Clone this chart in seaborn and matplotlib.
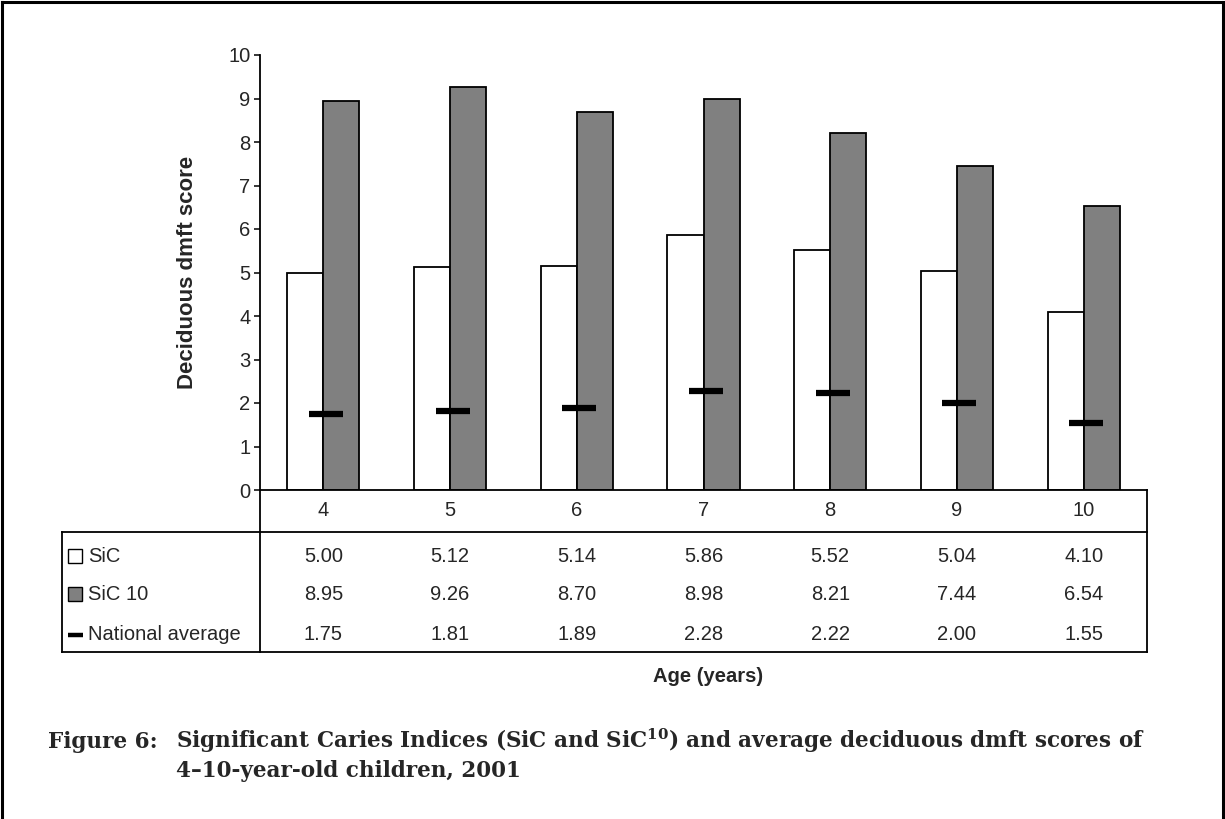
import numpy as np
import pandas as pd
import matplotlib
matplotlib.use('Agg')
import matplotlib.pyplot as plt
import matplotlib.transforms as mtransforms
from matplotlib.patches import Rectangle
import seaborn as sns

sns.set_theme(style='white')
plt.rcParams['font.family'] = ['Liberation Sans', 'DejaVu Sans']
plt.rcParams['mathtext.fontset'] = 'custom'
plt.rcParams['mathtext.rm'] = 'DejaVu Serif:bold'
plt.rcParams['mathtext.it'] = 'DejaVu Serif:bold'
plt.rcParams['mathtext.bf'] = 'DejaVu Serif:bold'

# data (values from the table under the chart)
ages = ['4', '5', '6', '7', '8', '9', '10']
sic = [5.00, 5.12, 5.14, 5.86, 5.52, 5.04, 4.10]
sic10 = [8.95, 9.26, 8.70, 8.98, 8.21, 7.44, 6.54]
national = [1.75, 1.81, 1.89, 2.28, 2.22, 2.00, 1.55]
series_names = ['SiC', 'SiC 10', 'National average']
yticks = list(range(0, 11))

df = pd.DataFrame({
    'age': ages * 2,
    'score': sic + sic10,
    'index': ['SiC'] * len(ages) + ['SiC 10'] * len(ages),
})

W, H = 1225, 819
L, R, T, B = 260, 1147, 55, 490
fig = plt.figure(figsize=(W / 100, H / 100), dpi=100)
ax = fig.add_axes([L / W, 1 - B / H, (R - L) / W, (B - T) / H])

sns.barplot(data=df, x='age', y='score', hue='index', order=ages,
            palette={'SiC': 'white', 'SiC 10': '#808080'},
            edgecolor='black', linewidth=1.3, width=0.57, legend=False,
            saturation=1, ax=ax)
ax.plot(np.arange(len(ages)) + 0.02, national, linestyle='none', marker='_',
        markersize=24, markeredgewidth=4.5, color='black', zorder=5)

ax.set_xlim(-0.5, len(ages) - 0.5)
ax.set_ylim(0, 10)
ax.set_yticks(yticks)
ax.set_yticklabels([str(t) for t in yticks], fontsize=14.5)
ax.set_xticks([])
ax.set_xlabel('')
ax.set_ylabel('Deciduous dmft score', fontsize=16, fontweight='bold')
ax.yaxis.set_label_coords(-0.070, 0.5)
ax.tick_params(axis='y', direction='out', length=4, width=1.1, color='black',
               pad=3, left=True)
for s in ['top', 'right']:
    ax.spines[s].set_visible(False)
for s in ['left', 'bottom']:
    ax.spines[s].set_color('black')
    ax.spines[s].set_linewidth(1.3)
ax.set_facecolor('none')

# overlay in pixel coordinates for the data table, frame and caption
ov = fig.add_axes([0, 0, 1, 1], zorder=-1)
ov.set_xlim(0, W)
ov.set_ylim(H, 0)
ov.axis('off')
ov.patch.set_visible(False)
tr = mtransforms.blended_transform_factory(ax.transData, ov.transData)

lk = dict(color='black', lw=1.3, solid_capstyle='projecting')
ov.plot([L, L], [B, 652], **lk)
ov.plot([R, R], [B, 652], **lk)
ov.plot([62, R], [532, 532], **lk)
ov.plot([62, R], [652, 652], **lk)
ov.plot([62, 62], [532, 652], **lk)

row_y = [557, 595, 634]
for i, a in enumerate(ages):
    ov.text(i, 510, a, transform=tr, ha='center', va='center', fontsize=14.5)
    for y, vals in zip(row_y, [sic, sic10, national]):
        ov.text(i, y, f'{vals[i]:.2f}', transform=tr, ha='center',
                va='center', fontsize=14.5)

# legend keys inside the table
ov.add_patch(Rectangle((68, 549), 14, 14, facecolor='white',
                       edgecolor='black', lw=1))
ov.add_patch(Rectangle((68, 587), 14, 14, facecolor='#808080',
                       edgecolor='black', lw=1))
ov.plot([68, 83], [635, 635], color='black', lw=3.2, solid_capstyle='butt')
for y, name in zip(row_y, series_names):
    ov.text(88, y, name, ha='left', va='center', fontsize=14.5)

ov.text(708, 677, 'Age (years)', ha='center', va='center',
        fontsize=14.5, fontweight='bold')

# frame around the figure
fk = dict(color='black', lw=2.2, solid_capstyle='projecting')
ov.plot([2, 2], [2, H + 5], **fk)
ov.plot([2, 1223], [2, 2], **fk)
ov.plot([1223, 1223], [2, H + 5], **fk)

# caption
cap = dict(fontsize=15.5, fontweight='bold', family='DejaVu Serif',
           va='baseline', ha='left')
ov.text(48, 748, 'Figure 6:', **cap)
ov.text(176, 748, 'Significant Caries Indices (SiC and SiC$^{10}$) and '
        'average deciduous dmft scores of', **cap)
ov.text(176, 777, '4\u201310-year-old children, 2001', **cap)

fig.savefig('out.png', dpi=100)
